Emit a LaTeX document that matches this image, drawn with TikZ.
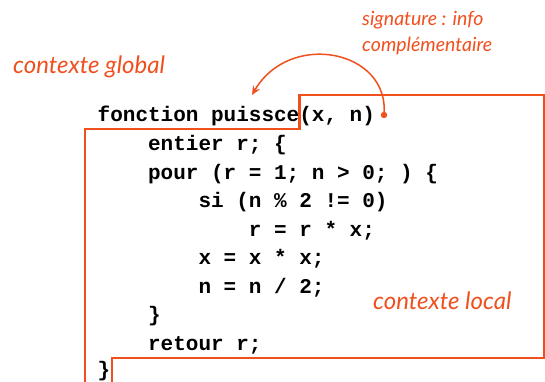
\documentclass[tikz,border=0pt]{standalone}
\usepackage{fontspec}
\setmonofont{Liberation Mono}
\newfontfamily\handfont{Lato}
\usetikzlibrary{arrows.meta}
\definecolor{accent}{HTML}{F0501E}
\tikzset{
  codeline/.style={anchor=base west, inner sep=0pt, font=\ttfamily\bfseries\fontsize{21}{21}\selectfont},
  handtext/.style={text=accent, inner sep=0pt, font=\handfont\itshape\fontsize{24}{26}\selectfont},
  handsmall/.style={text=accent, inner sep=0pt, font=\handfont\itshape\fontsize{19.5}{22}\selectfont},
  frameline/.style={draw=accent, line width=2.4pt, line join=miter},
}
\begin{document}
\begin{tikzpicture}[x=1pt,y=-1pt]
\useasboundingbox (0,0) rectangle (545,382);
\fill[white] (0,0) rectangle (545,382);
\def\xo{97.5}
\def\cw{12.6}
\node[codeline] (l0) at (\xo+0*\cw,122) {fonction puissce(x, n)};
\node[codeline] (l1) at (\xo+4*\cw,150.5) {entier r; \{};
\node[codeline] (l2) at (\xo+4*\cw,179) {pour (r = 1; n > 0; ) \{};
\node[codeline] (l3) at (\xo+8*\cw,207.5) {si (n \% 2 != 0)};
\node[codeline] (l4) at (\xo+12*\cw,236) {r = r * x;};
\node[codeline] (l5) at (\xo+8*\cw,264.5) {x = x * x;};
\node[codeline] (l6) at (\xo+8*\cw,293) {n = n / 2;};
\node[codeline] (l7) at (\xo+4*\cw,321.5) {\}};
\node[codeline] (l8) at (\xo+4*\cw,350) {retour r;};
\node[codeline] (l9) at (\xo+0*\cw,376) {\}};
% frame
\draw[frameline] (112,384) -- (112,358) -- (544,358) -- (544,95) -- (299.5,95) -- (299.5,129) -- (85,129) -- (85,384);
% labels
\node[handtext, anchor=base west] (glob) at (13,74) {contexte global};
\node[handsmall, anchor=base west] (sig1) at (362,26) {signature : info};
\node[handsmall, anchor=base west] (sig2) at (362,52) {complémentaire};
\node[handtext, anchor=base west] (loc) at (373,309) {contexte local};
% arrow
\coordinate (dot) at (384,115);
\coordinate (tip) at (252,95);
\fill[accent] (dot) circle (3.2);
\draw[accent, line width=1.5pt, -{Stealth[length=9pt,width=8pt]}] (dot) .. controls (390,50) and (290,30) .. (tip);
\end{tikzpicture}
\end{document}
